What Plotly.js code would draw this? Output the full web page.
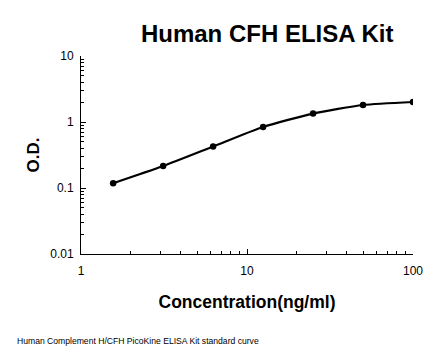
<!DOCTYPE html>
<html><head><meta charset="utf-8">
<script src="https://cdn.plot.ly/plotly-3.0.1.min.js"></script>
<style>html,body{margin:0;padding:0;background:#fff}#chart{width:446px;height:356px}</style>
</head><body><div id="chart"></div>
<script>
var concentration = [1.5625, 3.125, 6.25, 12.5, 25, 50, 100];
var od = [0.118, 0.215, 0.425, 0.84, 1.34, 1.81, 2.01];
var xTicks = [1, 10, 100];
var yTicks = [0.01, 0.1, 1, 10];
var yTickText = ['0.01', '0.1', '1', '10'];

var trace = {
  x: concentration, y: od, type: 'scatter', mode: 'lines+markers',
  line: {color: '#000', width: 2.2, shape: 'spline', smoothing: 0.6},
  marker: {color: '#000', size: 6.5}
};
var layout = {
  width: 446, height: 356,
  margin: {l: 81, r: 33, t: 56, b: 102},
  paper_bgcolor: '#fff', plot_bgcolor: '#fff',
  showlegend: false,
  font: {family: 'Liberation Sans, Arial, sans-serif', color: '#000'},
  title: {text: '<b>Human CFH ELISA Kit</b>', font: {size: 24, color: '#000'},
          x: 0.599, xanchor: 'center', y: 0.905, yanchor: 'middle'},
  xaxis: {type: 'log', range: [0, 2], tickvals: xTicks, ticktext: xTicks.map(String),
          ticks: 'inside', ticklen: 5, tickcolor: '#000', showline: true, linecolor: '#000', linewidth: 1,
          showgrid: false, zeroline: false, tickfont: {size: 12}, ticklabelstandoff: 6,
          minor: {dtick: 'D1', ticks: 'inside', ticklen: 3, tickcolor: '#000', showgrid: false},
          title: {text: '<b>Concentration(ng/ml)</b>', font: {size: 17.5}, standoff: 18}},
  yaxis: {type: 'log', range: [-2, 1], tickvals: yTicks, ticktext: yTickText,
          ticks: 'inside', ticklen: 5, tickcolor: '#000', showline: true, linecolor: '#000', linewidth: 1,
          showgrid: false, zeroline: false, tickfont: {size: 12}, ticklabelstandoff: 4,
          minor: {dtick: 'D1', ticks: 'inside', ticklen: 3, tickcolor: '#000', showgrid: false},
          title: {text: '<b>O.D.</b>', font: {size: 17}, standoff: 6}},
  annotations: [{text: 'Human Complement H/CFH PicoKine ELISA Kit standard curve',
    xref: 'paper', yref: 'paper', x: -0.199, xanchor: 'left', y: -0.437, yanchor: 'middle',
    showarrow: false, font: {size: 8.6, color: '#000'}}]
};
Plotly.newPlot('chart', [trace], layout, {displayModeBar: false, staticPlot: true});
</script></body></html>
